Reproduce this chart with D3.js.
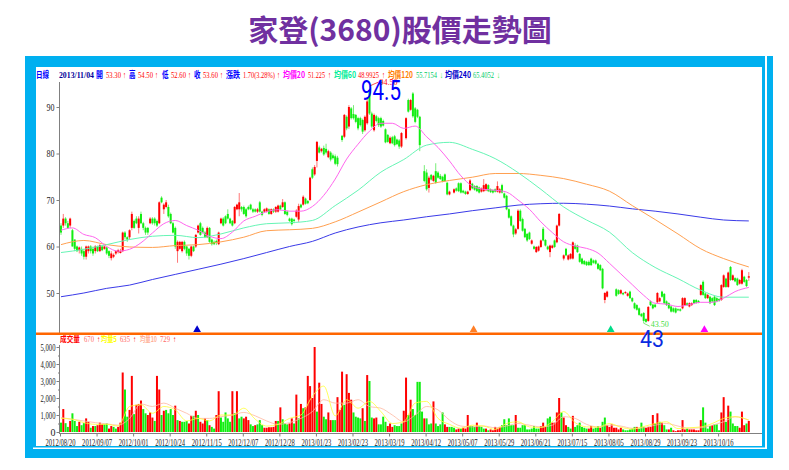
<!DOCTYPE html>
<html>
<head>
<meta charset="utf-8">
<script src="https://cdnjs.cloudflare.com/ajax/libs/d3/7.8.5/d3.min.js"></script>
<style>
html, body { margin: 0; padding: 0; background: #fff; overflow: hidden; }
svg { display: block; }
</style>
</head>
<body>
<div id="chart"></div>
<script>
// daily candles, one row = 10 trading days, null = no bar visible
var opens = [
64.5,64.5,66,65,64.5,63.5,61.5,60,59.2,59.5,
59,57.8,59,60,59.5,59,60,59,60,59.5,
59.8,59,57.5,57.8,58.5,58.8,58.6,59,63,62,
62,64,65.5,66,64,67,65,64,64,65,
66,66,65.5,65,70.5,68,68.5,68.5,67,65,
64,59,59.5,59,61,60,59.5,58,60,60,
63,65,64,63,62,64,61.5,61,61.2,60.5,
65,66,66.5,67,66,65.5,65,68,68,68.5,
68.5,68,68.5,69,68,68,67.5,69.5,67.5,67.5,
67.5,68,67,68,67.5,67.5,68.8,68.5,69.5,67.5,
66,66,65.8,66.4,65.8,69,69,70.3,69.8,70,
76.6,75.5,78.4,81.3,80.5,81.2,81,79.2,80.2,79.6,
79.4,79.1,null,83.8,83.6,87.9,85.8,89.7,88.5,88.3,
87.6,87.6,87.2,85,86.5,93.6,88.6,85,88,87.6,
87.6,87,85.2,84,82.2,83.5,83.7,83,82.8,81.5,
null,83.3,91.5,89.4,92.9,89.7,89.4,87.9,null,76.2,
75.9,72.6,75.4,74.1,76.2,75.9,75.2,75,75.5,73.7,
71.2,null,71.6,72.5,73.6,73.6,72,71.8,71.3,72.1,
73.5,73,73,72.7,71.8,71.9,72.1,73.2,72.3,72.1,
72.3,71.8,71.6,73.2,71.4,70.9,68,66.5,64.5,62.8,
63.8,67.7,65.9,63.8,62.7,63,60.6,60,58.8,59.1,
59.9,63.8,61.4,60,58.8,59.7,61.3,60.9,64.5,null,
57.4,59.5,57.2,57.4,57.4,60.2,60.2,58.4,57.4,56.9,
56.7,56.7,57.4,57,57,56.3,56,55.2,48.5,49.2,
null,null,null,50.8,50.6,49.9,50,50,49.4,50.3,
48.9,47.8,47.4,46.7,45.5,45.7,44.4,44,48.2,47.5,
47.5,48,48.2,50.3,49.8,48.2,47.8,47.1,46.7,46.7,
46.5,46.5,46.7,47.4,47.8,47.1,47.4,48.5,48.5,48.3,
49.6,52.4,49.9,48.9,49.2,48.9,49.2,48.9,48.7,48.5,
51.3,53.1,51.3,55.6,52.8,53.2,53.1,52,52,53.5,52.8,53.3];

var closes = [
63,66,65,64,66,60,59.5,59,59.8,58.5,
57.8,60,60,59,58.5,60,59,60.3,59.2,60,
58.5,58,58.5,58.2,59,59.2,59,63,62,61.5,
63.5,67,64,65,66,65,64,63,63,66,
65,65,64.5,69.5,69.5,69,69.5,66.5,65,63,
60,61,61,61,59.5,58.5,58,60,59,62.5,
64.5,62.5,63,62,64,61,60.5,60.5,60.8,63,
66,64.5,65,66,65,64.5,68.5,69,69.5,68,
67,66.5,68,68,67.5,67.5,68,67.5,66.8,68,
68.2,67,68,67.5,68.5,68.8,68,69.5,67,66.8,
65.5,64.8,65.5,67.7,68.7,68.4,70.7,69.2,69.3,74.8,
74.8,77.1,82.5,80.2,81,79.8,80.2,80.5,78.7,79,
77.8,77.7,null,82.9,88.3,85.4,90,87.6,87.6,86.8,
85.4,86.1,84.7,87.9,91.2,88.6,85.8,88.3,87,86.1,
85.8,86,82.4,82.5,83.4,82.2,81.8,82,81.5,84.4,
null,87.6,89,91.5,88,86.8,87.9,81.8,null,74.1,
72.3,74.8,74.4,75.2,73.7,74.8,74.5,74,74.1,71.2,
71.8,null,72.3,72,71.9,71.6,71.6,71.3,71.8,74.2,
72.5,72.2,71.9,71.6,72.5,73.2,73.4,71.9,71.7,71.6,
71.8,73,72.3,71.6,70.5,68,66.2,64.5,62.6,63.7,
67.7,65.5,63.4,62,61.3,61.6,61.3,59.5,59.9,60,
61.3,61.3,60.2,59.4,60.2,60.2,59.9,64.5,67,null,
58.1,58.1,58.1,58.4,60.9,59.5,58.8,56.7,56.3,56.2,
56,56,56,56.5,56.3,55.2,54.9,51,50,50.3,
null,null,null,49.4,49.8,50.6,49.7,50.2,49.9,48.9,
48.2,46.7,46.4,45.3,45,44,43.8,47,47.4,46.7,
47,50,48.9,49.2,47.8,47.4,46.7,46,46,45.8,
46.3,46.2,48.9,48.9,47.4,47.8,47.8,47.8,47.9,48,
51.7,49.6,48.9,49.6,47.8,48.2,47.4,48.2,48.3,51.7,
53.8,51.3,54.4,52.8,53.8,52.5,51.7,52.8,54.9,52.4,51.5,53.6];

var highs = [
65,67,66.3,65.5,66.2,63.8,61.5,60.2,60,60,
59.5,60.2,60.2,60.3,60,60.3,60.2,60.5,60.2,60.2,
60,59.2,59,58.5,59.2,59.5,59.5,63.2,63.3,62.2,
63.7,67.5,65.8,66.5,66.5,67.5,65.3,64.3,64.2,66.3,
66.3,66.3,65.8,69.7,70.8,69.3,70,69,67.3,65.3,
64.3,61.3,61.2,61.2,61.3,60.2,59.7,60.2,60.2,62.7,
64.7,65.3,64.3,63.3,64.3,64.2,61.7,61.3,61.5,63.2,
66.2,66.3,66.7,68,66.2,65.7,68.7,69.2,71.5,68.7,
68.8,68.3,68.8,69.2,68.3,68.2,68.3,69.8,67.7,68.2,
68.4,68.2,68.2,68.2,68.7,69,69,70.2,69.7,67.7,
66.2,66.2,66,68,69.2,69.2,71,70.5,70,75,
77,77.5,82.7,81.7,81.2,81.7,82.1,80.8,80.5,80,
79.8,79.5,null,84,88.5,88.2,90.4,90,90.4,88.5,
87.9,87.9,87.5,88.2,92,94.5,89,88.6,88.3,87.9,
87.9,87.3,85.4,84.2,83.7,83.8,84,83.2,83.1,84.6,
null,87.8,91.8,91.7,93.2,90,89.6,88.1,null,77.5,
76.6,75.2,75.6,75.4,77.9,76.2,75.6,75.2,75.7,73.9,
72,null,72.5,72.7,73.8,73.8,72.2,72,72,74.5,
73.7,73.2,73.2,72.9,72.7,74.5,73.6,73.4,72.5,72.3,
72.5,74,72.6,73.5,71.6,71.1,68.2,66.7,64.7,64,
68,68,66.2,64,62.9,63.2,61.5,60.2,60.1,60.2,
61.5,64.2,61.6,60.2,60.4,60.4,61.5,64.7,67.2,null,
58.3,59.7,58.3,58.6,61.1,60.7,60.4,58.6,57.6,57.1,
56.9,57,57.6,57.2,57.2,56.5,56.2,55.4,50.2,50.5,
null,null,null,51,50.8,50.8,50.2,50.4,50.1,50.5,
49.1,48,47.6,46.9,45.7,45.9,44.6,47.2,48.4,47.7,
47.7,50.2,49.1,50.5,50,48.4,48,47.3,46.9,46.9,
46.7,46.7,49.1,49.1,48,48,48,48.7,48.7,48.5,
51.9,52.7,50.1,49.8,49.4,49.1,49.4,49.1,48.9,51.9,
54,53.3,54.6,55.8,54,53.4,53.3,53,55.2,53.7,53,54.5];

var lows = [
62.5,64,64.5,63.8,64,60,59,58.8,58.5,58,
57.2,57.2,58.5,58.5,58,58.5,58.8,58.8,59,59.3,
58.2,57.5,57,57.5,58.2,58.5,58.5,58.8,61.5,61,
61.5,63.5,63.8,64.8,62.8,64.8,63.5,62.5,62.5,64.8,
64.7,64.5,64.2,64.8,69.3,67,68.2,66.2,64.8,62.8,
59.5,56.5,59.3,58.7,59.2,58,57.2,57.7,58.8,59.7,
62.8,62.3,62.8,61.8,61.8,60.8,60.2,60.3,60.3,60.3,
64.8,64.3,64.8,65.8,64.8,64.3,64.8,67.8,66.5,67.5,
66.8,66.2,67.8,67.8,67.2,67.3,67.2,67.3,66.5,67.2,
67.3,66.8,66.8,67.2,67.2,67.3,67.8,68.3,66.8,66.5,
65.3,64.5,65,66.2,65.3,68.2,68.8,69,69.1,69.8,
74.5,75.2,77,80,80.2,79.5,79.8,79,78.3,78.7,
77.5,77.2,null,82.5,83.3,85,85.3,87.3,87.3,86.5,
85,85.8,84.2,84.7,86.2,88.3,85.5,84.7,86.7,85.7,
85.5,85.8,82.2,82.3,82,82,81.5,81.8,81,81.2,
null,83,88.8,89.2,87.7,86.5,87.6,80.5,null,73.8,
72,71.6,74.2,73.9,73.5,74.6,74.3,73.8,73.9,71,
71,null,71.4,71.8,71.7,71.4,71.4,71.1,71.1,71.9,
72.3,72,71.7,71.4,71.6,71.7,71.9,71.7,71.5,71.4,
71.6,71.6,71.4,71.4,70.3,67.8,66,64.3,62,62.5,
63.6,65.3,63.2,61.8,61,61.4,60.4,59.3,58.6,58.9,
59.7,61.1,60,59.2,57.7,59.5,59.7,60.7,64.3,null,
57,57.9,57,57.2,57.2,59.3,58.6,56.5,56.1,56,
55.8,55.8,55.8,56.3,56.1,55,54.7,50.8,47.8,49,
null,null,null,49.2,49.6,49.7,49.5,49.8,49.2,48.7,
48,46.5,46.2,45.1,44.8,43.5,43.6,43.8,47.2,46.5,
46.8,47.8,48,49,47.6,47.2,46.5,45.8,45.8,45.6,
46.1,46,46.5,47.2,47.2,46.9,47.2,47.6,47.7,47.8,
49.4,49.4,48.7,48.7,47.6,48,47.2,48,48.1,48.3,
51.1,51.1,51.1,52.6,52.6,52.3,51.5,51.8,51.8,52.2,51.3,52.6];

var volumes = [
550,1350,520,300,650,1100,650,350,600,400,
520,800,600,250,350,350,400,550,450,450,
500,200,350,300,200,300,550,3500,2500,900,
1300,3300,1050,1600,1650,1850,1350,1100,1000,1150,
850,650,3300,2500,1000,1250,1300,1100,1350,1000,
1550,700,650,600,600,650,500,950,950,1250,
1000,600,500,800,700,400,300,200,1000,2400,
850,600,1150,800,600,2400,1100,2400,800,900,
800,900,700,450,350,400,450,700,400,250,
250,280,280,300,650,650,1450,750,500,450,
500,800,500,2200,800,1650,1400,1450,3300,2700,
2000,5000,1200,2900,1650,900,750,1150,700,700,
700,2050,1300,3550,1600,3400,2300,1900,1150,900,
850,800,1400,650,3350,3000,850,800,850,450,
450,900,600,350,500,300,400,350,350,500,
1250,3200,1000,1900,1350,1000,2950,2950,1200,800,
800,450,500,1800,500,350,450,1150,450,300,
300,300,250,150,200,200,250,200,1000,350,
350,300,550,350,300,200,200,100,150,100,
300,200,300,400,750,400,800,400,400,1000,
250,250,400,400,150,150,200,350,200,200,
350,550,300,800,900,550,550,1150,2000,1150,
850,400,300,200,950,300,400,550,300,250,
200,200,350,200,250,350,250,600,850,400,
300,450,250,250,150,250,150,100,100,150,
200,300,300,200,550,300,250,300,300,1000,
500,1100,600,550,400,150,150,250,100,50,
100,100,700,150,200,150,150,150,100,100,
700,1450,550,200,350,400,450,450,100,1150,
2050,600,1550,1200,500,350,350,250,1200,400,500,650];

// colour of each volume bar, r = up day, g = down day
var volumeDirs = [
"grggrgggrg","grrgrgrrrg","grrggrrrgg","rrgrrrggrr","rgrrgrgggg","rgrgggrrgr",
"grrrgrggrr","gggggrgrgg","rrrggrgggr","rrrrrgrggg","rrgrgrgrrr","rrgrrggrrg",
"grrrgrrrgg","ggrgrggrrg","gggrrrgggg","rrgrgggggr","gggrggggrr","gggrrgrrrg",
"ggrgggrgrr","rrrggggggr","gggggggggg","rrrggrrrrg","rrggrggggg","grrgggrggr",
"rrrrrrgggg","ggrgggrrrr","grgrggrgrr","rrrrgrrrrr","rggggrgggr","rgrggggrrrgr"].join("");

var ma20 = [63.5,64,62.6,61.9,60,59,59.4,60.8,62.9,64.9,65.6,64.5,63.5,62.2,61.7,63.1,65.5,66.5,67.5,67.9,
67.6,67.6,68.6,71,74.5,78.8,82,84.8,86.5,86.5,85.4,85.9,83.6,81.3,78.4,75.2,73,72.3,72.1,71.7,
70,68,65.3,63,61,60.1,59.6,58.6,56.4,54.1,51.8,49.5,47.8,47.6,47.1,47.5,48,48,48.9,50.3,51.2];
var ma60 = [58.7,59.4,60.4,61.5,62.2,62.4,61.9,62.7,64,64.9,65.1,65.6,68.8,72.1,76,78.7,81.8,82.4,80.9,78.9,75.9,72.3,68.5,65.7,63.1,58.7,55.5,53.1,50.6,49.1,49.1];
var ma120 = [60.4,61.3,60.4,59.9,59.8,60.2,60.4,61,62,63.4,63.6,63.9,65.3,67.4,69.6,71.8,73.3,74.2,74.9,75.7,75.7,75.3,74.6,73.4,71.9,68.8,65.8,62.7,59.5,57.4,55.6];
var ma240 = [49.2,50,51,51.7,52.9,54,55.1,56.2,57.4,58.7,60,61.1,62.9,64.2,65.1,65.7,66.4,67,67.7,68.3,68.9,69.2,69.3,69.1,68.7,68.1,67.6,67,66.3,65.7,65.5];
var volMa5 = [800,750,550,450,450,350,1500,1600,1100,1500,1300,650,800,650,1000,1000,1400,750,350,450,
800,1000,2100,2700,950,1900,1400,1800,1200,500,600,1700,1800,800,450,220,400,350,150,500,
600,300,260,600,1200,550,300,280,500,280,170,320,500,600,200,250,300,500,800,900,700];
var volMa10 = [850,750,650,550,480,400,800,1650,1500,1700,1400,1100,800,800,900,1000,1150,950,650,450,
550,800,1200,1900,1700,1700,1900,1500,1400,1000,600,1000,1500,1300,700,350,300,350,250,350,
500,400,300,400,900,800,450,300,400,350,220,250,400,500,350,220,250,400,600,900,700];

var lastDay = 301;
var priceTicks = [90, 80, 70, 60, 50];
var volumeTicks = [5000, 4000, 3000, 2000, 1000, 0];
var volumeMinorTicks = [4500, 3500, 2500, 1500, 500];
var tickDays = [0,16,32,48,64,80,96,112,128,144,160,176,192,208,224,240,256,272,288];
var dateLabels = ["2012/08/20","2012/09/07","2012/10/01","2012/10/24","2012/11/15","2012/12/07","2012/12/28",
  "2013/01/23","2013/02/23","2013/03/19","2013/04/12","2013/05/07","2013/05/29","2013/06/21","2013/07/15",
  "2013/08/05","2013/08/29","2013/09/23","2013/10/16"];
var markerDays = [60, 181, 241, 282];
var markerColors = ["#0000cc", "#ff7f27", "#00dd88", "#ff00ff"];

var width = 789, height = 470;
var blue = "#00b0f0", up = "#ff0000", down = "#11ee11";

var svg = d3.select("#chart").append("svg").attr("width", width).attr("height", height)
  .attr("font-family", "'Liberation Serif', 'Noto Sans CJK TC', serif");

// squeeze a text sideways to a width, the original font is tall and narrow
function fit(sel, w) {
  sel.each(function(d, i) {
    var t = d3.select(this);
    var target = typeof w === "function" ? w(d, i) : w;
    var px = +t.attr("x") || 0;
    var s = target / this.getComputedTextLength();
    t.attr("transform", "translate(" + px + ",0) scale(" + s + ",1) translate(" + (-px) + ",0)");
  });
}

// title and frame
svg.append("text").attr("x", 400).attr("y", 41).attr("text-anchor", "middle")
  .attr("font-family", "'Noto Sans CJK TC'").attr("font-weight", 700).attr("font-size", 30)
  .attr("fill", "#7030a0").text("家登(3680)股價走勢圖");
svg.append("rect").attr("x", 25).attr("y", 56).attr("width", 748).attr("height", 402).attr("fill", blue);
svg.append("rect").attr("x", 33).attr("y", 447.5).attr("width", 734).attr("height", 1.5).attr("fill", "#fff");
svg.append("rect").attr("x", 765).attr("y", 56).attr("width", 2).attr("height", 393).attr("fill", "#fff");
svg.append("rect").attr("x", 36).attr("y", 67).attr("width", 726).attr("height", 379).attr("fill", "#fff");

var x = d3.scaleLinear().domain([0, lastDay]).range([60, 747.8]);
var yPrice = d3.scaleLinear().domain([50, 90]).range([293, 107]);
var yVol = d3.scaleLinear().domain([0, 5000]).range([432, 347]);

// header read-out
var headerText = ["日線","2013/11/04","開","53.30","↑","高","54.50","↑","低","52.60","↑","收","53.60","↑","漲跌","1.70(3.28%)","↑",
  "均價20","51.225","↑","均價60","48.9925","↑","均價120","55.7154","↓","均價240","65.4052","↓"];
var headerX = [36,59,96,106,123,129,138,155,162,171,188,194,203,220,226,243,277,283,308,328,334,358,382,388,416,440,445,473,497];
var headerW = [13,35,7,15,3,6.5,15,3,6.5,15,3,6.5,15,3,14,32,3,22,17,3,22,21,3,25,21,3,26,21,3];
var headerColor = ["#0000ff","#000099","#0000ff",up,up,"#0000ff",up,up,"#0000ff",up,up,"#0000ff",up,up,"#0000ff",up,up,
  "#ff00ff",up,up,"#00ee99",up,up,"#ff8000","#00cc66",down,"#0000cc","#00cc66",down];
svg.append("g").selectAll("text").data(headerText).enter().append("text")
  .attr("x", function(d, i) { return headerX[i]; })
  .attr("y", 78)
  .attr("font-size", 9)
  .attr("font-family", function(d) { return /^[0-9↑↓]/.test(d) ? "'Liberation Serif'" : "'Noto Sans CJK TC'"; })
  .attr("font-weight", function(d) { return /^[0-9]/.test(d) && d.indexOf("/") < 0 ? 400 : 700; })
  .attr("fill", function(d, i) { return headerColor[i]; })
  .text(function(d) { return d; })
  .call(fit, function(d, i) { return headerW[i]; });

// volume read-out
var volText = ["成交量","670","↑","均量5","635","↑","均量10","729","↑"];
var volX = [60,84,97,101,120,133,140,160,173];
var volW = [20,10,3,16,10,3,17,10,3];
var volColor = [up,"#ff6666",up,"#ffff00","#ff6666",up,"#ffb199","#ff6666",up];
svg.append("g").selectAll("text").data(volText).enter().append("text")
  .attr("x", function(d, i) { return volX[i]; })
  .attr("y", 342)
  .attr("font-size", 8)
  .attr("font-family", function(d) { return /^[0-9↑]/.test(d) ? "'Liberation Serif'" : "'Noto Sans CJK TC'"; })
  .attr("font-weight", function(d, i) { return i % 3 == 1 ? 400 : 700; })
  .attr("fill", function(d, i) { return volColor[i]; })
  .text(function(d) { return d; })
  .call(fit, function(d, i) { return volW[i]; });

// axes
function styleAxis(g) {
  g.selectAll("path,line").attr("stroke", "#808080");
  g.selectAll("text").attr("fill", "#222").attr("font-size", 10).attr("font-family", "'Liberation Serif'");
}
var axisPrice = svg.append("g").attr("transform", "translate(59.5,0)")
  .call(d3.axisLeft(yPrice).tickValues(priceTicks).tickSize(3).tickSizeOuter(0).tickPadding(2))
  .call(styleAxis);
axisPrice.select(".domain").attr("d", "M0,82V333");
axisPrice.selectAll("text").call(fit, 8);

var axisVol = svg.append("g").attr("transform", "translate(59.5,0)")
  .call(d3.axisLeft(yVol).tickValues(volumeTicks).tickSize(3).tickSizeOuter(0).tickFormat(d3.format(",")).tickPadding(1))
  .call(styleAxis);
axisVol.select(".domain").attr("d", "M0,345V433.5");
axisVol.selectAll("text").call(fit, function(d) { return d ? 15 : 5; });

svg.append("g").attr("transform", "translate(59.5,0)")
  .call(d3.axisLeft(yVol).tickValues(volumeMinorTicks).tickSize(1.5).tickSizeOuter(0).tickFormat(""))
  .call(styleAxis)
  .select(".domain").remove();

var axisDate = svg.append("g").attr("transform", "translate(0,433.5)")
  .call(d3.axisBottom(x).tickValues(tickDays).tickSize(3).tickSizeOuter(0).tickPadding(2)
    .tickFormat(function(d, i) { return dateLabels[i]; }))
  .call(styleAxis);
axisDate.select(".domain").attr("d", "M59,0H762");
axisDate.selectAll("text").call(fit, 30);

// moving averages
function knots(values, step) {
  return values.map(function(v, i) { return [i == values.length - 1 ? lastDay : i * step, v]; });
}
function drawLine(values, step, y, color, w) {
  var line = d3.line().curve(d3.curveMonotoneX)
    .x(function(d) { return x(d[0]) + 1; })
    .y(function(d) { return y(d[1]); });
  svg.append("path").attr("d", line(knots(values, step)))
    .attr("fill", "none").attr("stroke", color).attr("stroke-width", w);
}

// candles
var days = d3.range(opens.length);
function isUp(i) { return closes[i] >= opens[i]; }
var candleDays = days.filter(function(i) { return opens[i] !== null; });
var candles = svg.append("g");
candles.selectAll("line").data(candleDays).enter().append("line")
  .attr("x1", function(i) { return x(i) + 1; }).attr("x2", function(i) { return x(i) + 1; })
  .attr("y1", function(i) { return yPrice(highs[i]); }).attr("y2", function(i) { return yPrice(lows[i]); })
  .attr("stroke", function(i) { return isUp(i) ? "#ff7777" : "#77ee77"; }).attr("stroke-width", 1);
candles.selectAll("rect").data(candleDays).enter().append("rect")
  .attr("x", function(i) { return x(i); })
  .attr("width", 2)
  .attr("y", function(i) { return yPrice(Math.max(opens[i], closes[i])); })
  .attr("height", function(i) { return Math.max(1, Math.abs(yPrice(opens[i]) - yPrice(closes[i]))); })
  .attr("fill", function(i) { return isUp(i) ? up : down; });

drawLine(ma240, 10, yPrice, "#3a3ae8", 1);
drawLine(ma120, 10, yPrice, "#ffa050", 1);
drawLine(ma60, 10, yPrice, "#66f5b5", 1);
drawLine(ma20, 5, yPrice, "#ff66ee", 1);

// volume bars
svg.append("g").selectAll("rect").data(days).enter().append("rect")
  .attr("x", function(i) { return x(i); })
  .attr("width", 2)
  .attr("y", function(i) { return yVol(volumes[i]); })
  .attr("height", function(i) { return yVol(0) - yVol(volumes[i]); })
  .attr("fill", function(i) { return volumeDirs[i] == "r" ? up : down; });
drawLine(volMa10, 5, yVol, "#ffb8a0", 0.8);
drawLine(volMa5, 5, yVol, "#ffff33", 0.8);

// divider and signal markers
svg.append("rect").attr("x", 36).attr("y", 332.5).attr("width", 726).attr("height", 2.5).attr("fill", "#ff6600");
var tri = d3.symbol().type(d3.symbolTriangle).size(26);
svg.append("g").selectAll("path").data(markerDays).enter().append("path")
  .attr("d", tri)
  .attr("transform", function(d) { return "translate(" + x(d) + ",329.8)"; })
  .attr("fill", function(d, i) { return markerColors[i]; });

// high and low notes
var highNote = svg.append("g");
highNote.append("line").attr("x1", x(135) + 1).attr("y1", yPrice(94.5))
  .attr("x2", x(135) + 10).attr("y2", yPrice(94.5) - 4).attr("stroke", up).attr("stroke-width", 0.7);
highNote.append("text").attr("x", x(135) + 11).attr("y", yPrice(94.5) - 1).attr("font-size", 8).attr("fill", up).text("94.50");
var lowNote = svg.append("g");
lowNote.append("line").attr("x1", x(255) + 1).attr("y1", yPrice(43.5))
  .attr("x2", x(255) + 7).attr("y2", yPrice(43.5) + 3).attr("stroke", "#44dd44").attr("stroke-width", 0.7);
lowNote.append("text").attr("x", x(255) + 8).attr("y", yPrice(43.5) + 4).attr("font-size", 8).attr("fill", "#44dd44").text("43.50");

// big callouts
svg.append("text").attr("x", 361).attr("y", 100).attr("font-family", "Roboto").attr("font-size", 27)
  .attr("fill", "#0000ff").text("94.5").call(fit, 40);
svg.append("text").attr("x", 640).attr("y", 347).attr("font-family", "Roboto").attr("font-size", 24)
  .attr("fill", "#0a2be0").text("43").call(fit, 24);
</script>
</body>
</html>
